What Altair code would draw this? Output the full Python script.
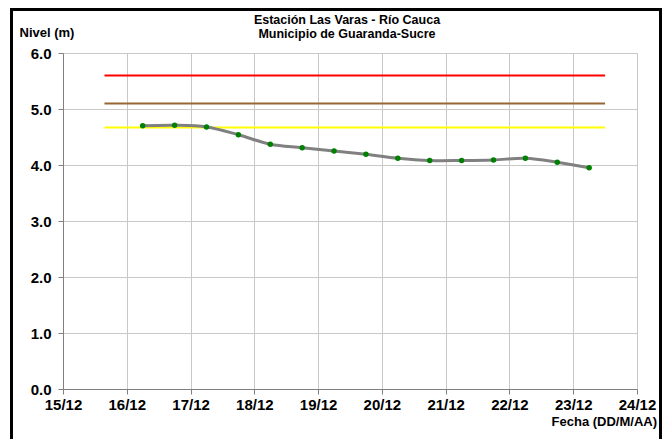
import altair as alt
import pandas as pd

# Data
days = [16.25, 16.75, 17.25, 17.75, 18.25, 18.75, 19.25, 19.75,
        20.25, 20.75, 21.25, 21.75, 22.25, 22.75, 23.25]
nivel = [4.70, 4.71, 4.68, 4.54, 4.37, 4.31, 4.25, 4.19,
         4.12, 4.08, 4.08, 4.09, 4.12, 4.05, 3.95]

umbral_vals = [5.6, 5.1, 4.67]
umbral_cols = ["#ff0000", "#996633", "#ffff00"]
umbral_start = 15.65
umbral_end = 23.5

x_ticks = [15, 16, 17, 18, 19, 20, 21, 22, 23, 24]
y_ticks = [0, 1, 2, 3, 4, 5, 6]

title_lines = ["Estación Las Varas - Río Cauca", "Municipio de Guaranda-Sucre"]
y_title = "Nivel (m)"
x_title = "Fecha (DD/M/AA)"

FONT = "Liberation Sans"

df = pd.DataFrame({"dia": days, "nivel": nivel})
df_u = pd.DataFrame({"y": umbral_vals, "c": umbral_cols,
                     "x1": [umbral_start] * 3, "x2": [umbral_end] * 3})
one = pd.DataFrame({"a": [0]})

W, H = 574, 336

xscale = alt.Scale(domain=[15, 24], nice=False, zero=False)
yscale = alt.Scale(domain=[0, 6], nice=False)

xaxis = alt.Axis(values=x_ticks, labelExpr="format(datum.value, 'd') + '/12'",
                 title=None, grid=True, gridColor="#c8c8c8", gridWidth=1,
                 domainColor="#808080", tickColor="#808080", tickSize=5,
                 labelFont=FONT, labelFontSize=15, labelFontWeight="bold",
                 labelColor="black", labelPadding=3, labelFlush=False)
yaxis = alt.Axis(values=y_ticks, format=".1f", title=None, grid=True,
                 gridColor="#c8c8c8", gridWidth=1, domainColor="#808080",
                 tickColor="#808080", tickSize=5, labelFont=FONT,
                 labelFontSize=15, labelFontWeight="bold", labelColor="black",
                 labelPadding=7)

base_axes = alt.Chart(df).mark_point(opacity=0).encode(
    x=alt.X("dia:Q", scale=xscale, axis=xaxis),
    y=alt.Y("nivel:Q", scale=yscale, axis=yaxis),
)

rules = alt.Chart(df_u).mark_rule(strokeWidth=2).encode(
    x=alt.X("x1:Q", scale=xscale),
    x2="x2:Q",
    y=alt.Y("y:Q", scale=yscale),
    color=alt.Color("c:N", scale=None),
)

line = alt.Chart(df).mark_line(color="#808080", strokeWidth=3,
                               interpolate="catmull-rom").encode(
    x=alt.X("dia:Q", scale=xscale),
    y=alt.Y("nivel:Q", scale=yscale),
)

pts = alt.Chart(df).mark_circle(color="#008000", size=30, opacity=1).encode(
    x=alt.X("dia:Q", scale=xscale),
    y=alt.Y("nivel:Q", scale=yscale),
)

t1 = alt.Chart(one).mark_text(text=title_lines[0], font=FONT, fontSize=12.5,
                              fontWeight="bold", align="center",
                              baseline="middle").encode(
    x=alt.value(284), y=alt.value(-33))
t2 = alt.Chart(one).mark_text(text=title_lines[1], font=FONT, fontSize=12.5,
                              fontWeight="bold", align="center",
                              baseline="middle").encode(
    x=alt.value(284), y=alt.value(-19))
ty = alt.Chart(one).mark_text(text=y_title, font=FONT, fontSize=13,
                              fontWeight="bold", align="center",
                              baseline="middle").encode(
    x=alt.value(-16), y=alt.value(-20))
tx = alt.Chart(one).mark_text(text=x_title, font=FONT, fontSize=13,
                              fontWeight="bold", align="right",
                              baseline="middle").encode(
    x=alt.value(594), y=alt.value(33 + H))

frame = alt.Chart(one).mark_rect(filled=False, stroke="black",
                                 strokeWidth=3).encode(
    x=alt.value(-51.5), x2=alt.value(597.5), y=alt.value(-43.5), y2=alt.value(470))

chart = alt.layer(base_axes, rules, line, pts, t1, t2, ty, tx, frame).properties(
    width=W, height=H,
    autosize=alt.AutoSizeParams(type="none"),
    padding={"left": 55, "top": 45, "right": 26, "bottom": 50},
    background="white",
).configure_view(stroke=None)

chart.save("out.html", embed_options={"renderer": "svg", "actions": False})
